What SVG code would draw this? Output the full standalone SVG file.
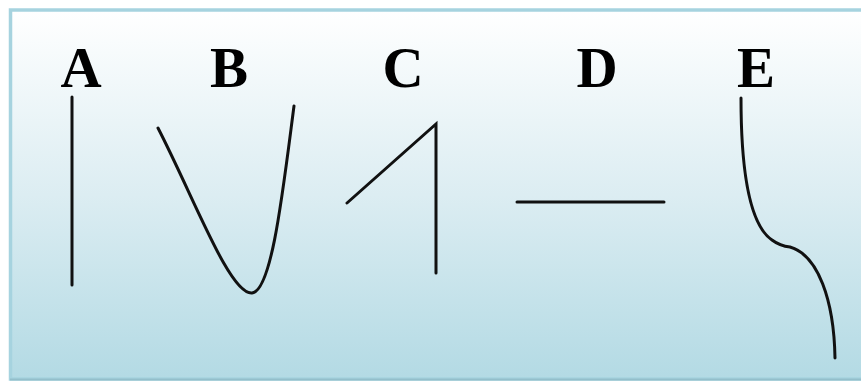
<svg xmlns="http://www.w3.org/2000/svg" width="861" height="382" viewBox="0 0 861 382">
<defs>
<linearGradient id="bg" x1="0" y1="0" x2="0" y2="1">
<stop offset="0" stop-color="#ffffff"/>
<stop offset="0.5" stop-color="#dcedf2"/>
<stop offset="1" stop-color="#b3dae4"/>
</linearGradient>
</defs>
<style>
.lbl{font-family:"Liberation Serif","Times New Roman",serif;font-weight:bold;font-size:57px;fill:#000;text-anchor:middle}
.crv{fill:none;stroke:#111;stroke-width:3;stroke-linecap:round;stroke-linejoin:miter}
</style>
<rect x="0" y="0" width="861" height="382" fill="#ffffff"/>
<rect x="10.5" y="10" width="860" height="369" fill="url(#bg)" stroke="#a6d3df" stroke-width="3.5"/>
<line x1="10" y1="379.5" x2="861" y2="379.5" stroke="#93bfcb" stroke-width="2"/>
<g id="A"><text class="lbl" x="81" y="87">A</text></g>
<g id="B"><text class="lbl" x="229" y="87">B</text></g>
<g id="C"><text class="lbl" x="403" y="87">C</text></g>
<g id="D"><text class="lbl" x="597" y="87">D</text></g>
<g id="E"><text class="lbl" x="756" y="87">E</text></g>
<g id="curves">
<path class="crv" d="M72,97 L72,285"/>
<path class="crv" d="M158,128 C195,200 230,295 252,293 C272,291 283,190 294,106"/>
<path class="crv" d="M347,203 L436,124 L436,273"/>
<path class="crv" d="M517,202 L664,202"/>
<path class="crv" d="M741,98 C741,175 750,225 772,240 Q780,246 790,247 C818,255 834,300 835,358"/>
</g>
</svg>
